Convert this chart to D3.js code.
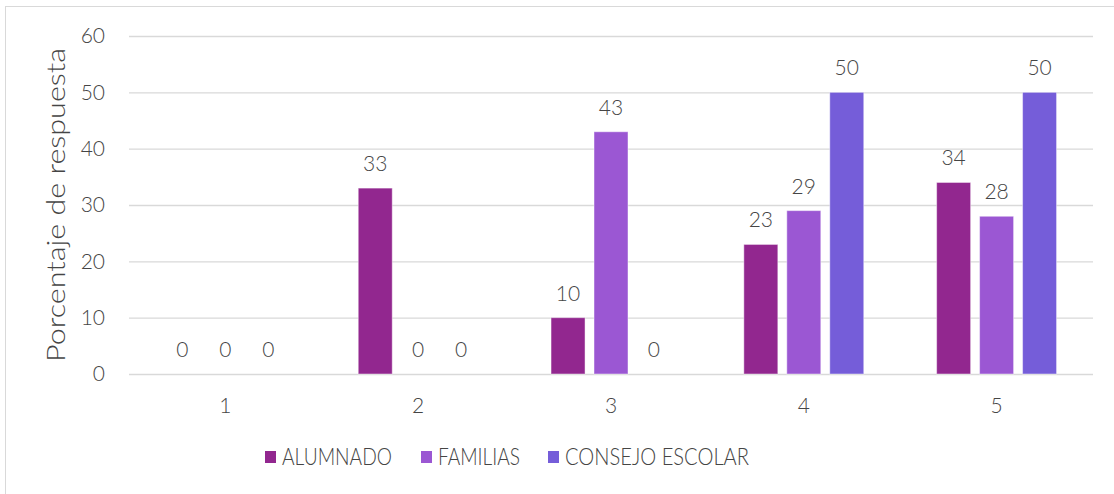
<!DOCTYPE html>
<html><head><meta charset="utf-8">
<script src="https://cdn.jsdelivr.net/npm/d3@7"></script>
<style>body{margin:0;background:#fff}svg{display:block}text{font-family:Lato,"Noto Sans",sans-serif;font-weight:300;fill:#454545}</style>
</head><body><svg id="c" width="1114" height="494"></svg>
<script>
const categories = ["1","2","3","4","5"];
const seriesNames = ["ALUMNADO","FAMILIAS","CONSEJO ESCOLAR"];
const alumnado = [0,33,10,23,34];
const familias = [0,0,43,29,28];
const consejo = [0,0,0,50,50];
const yTicks = [0,10,20,30,40,50,60];
const colors = ["#92278F","#9B57D3","#755DD9"];
const series = [alumnado, familias, consejo];

const svg = d3.select("#c");
svg.append("rect").attr("x",5.5).attr("y",6.5).attr("width",1120).attr("height",500)
  .attr("fill","none").attr("stroke","#d9d9d9");

const x0 = d3.scaleBand().domain(categories).range([129,1093]).paddingInner(0.378).paddingOuter(0.189);
const x1 = d3.scaleBand().domain(seriesNames).range([0,x0.bandwidth()]).paddingInner(0.209);
const y = d3.scaleLinear().domain([0,60]).range([374,36]);

const yAxis = d3.axisLeft(y).tickValues(yTicks).tickSize(-(1093-129)).tickPadding(24);
const gy = svg.append("g").attr("transform","translate(129,0)").call(yAxis);
gy.select(".domain").remove();
gy.selectAll(".tick line").attr("stroke","#d9d9d9").attr("stroke-width",1.4);
gy.selectAll(".tick text").style("font-size","21px").style("font-family","Lato").attr("fill","#454545");

const xAxis = d3.axisBottom(x0).tickSize(0).tickPadding(24);
const gx = svg.append("g").attr("transform","translate(0,374)").call(xAxis);
gx.select(".domain").remove();
gx.selectAll(".tick text").style("font-size","21px").style("font-family","Lato").attr("fill","#454545");

series.forEach((vals,si)=>{
  const g = svg.append("g");
  g.selectAll("rect").data(vals).join("rect")
    .attr("x",(d,i)=>x0(categories[i])+x1(seriesNames[si]))
    .attr("y",d=>y(d))
    .attr("width",x1.bandwidth())
    .attr("height",d=>y(0)-y(d))
    .attr("fill",colors[si])
    .attr("stroke",d=>d>0?"rgba(255,255,255,0.45)":"none").attr("stroke-width",1);
  g.selectAll("text").data(vals).join("text")
    .attr("x",(d,i)=>x0(categories[i])+x1(seriesNames[si])+x1.bandwidth()/2)
    .attr("y",d=>y(d)-17)
    .attr("text-anchor","middle")
    .style("font-size","21px")
    .text(d=>d);
});

svg.append("text").attr("transform","translate(65,205) rotate(-90)")
  .attr("text-anchor","middle").style("font-size","25px")
  .attr("textLength",314).attr("lengthAdjust","spacingAndGlyphs")
  .text("Porcentaje de respuesta");

const legX = [265,421,548];
const legW = [110,82,184];
seriesNames.forEach((n,i)=>{
  svg.append("rect").attr("x",legX[i]).attr("y",451).attr("width",11).attr("height",12).attr("fill",colors[i]);
  svg.append("text").attr("x",legX[i]+17).attr("y",465).style("font-size","23px")
    .attr("textLength",legW[i]).attr("lengthAdjust","spacingAndGlyphs").text(n);
});
</script></body></html>
